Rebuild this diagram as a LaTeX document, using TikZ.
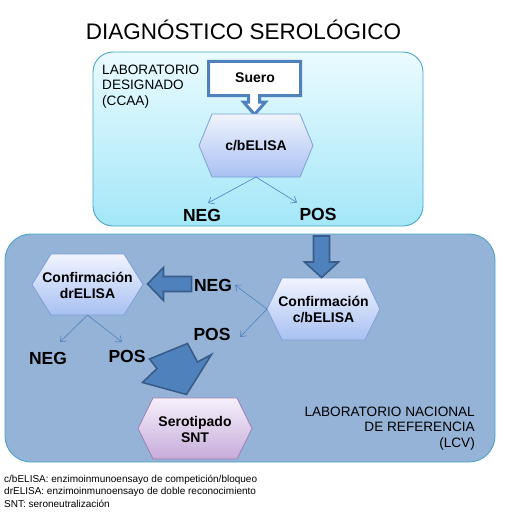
\documentclass[tikz,border=0pt]{standalone}
\usepackage{fontspec}
\setmainfont{Liberation Sans}
\usetikzlibrary{arrows.meta}
\definecolor{topfillA}{HTML}{EAFBFF}
\definecolor{topfillB}{HTML}{A3E7F8}
\definecolor{boxline}{HTML}{4BA5C8}
\definecolor{lowfill}{HTML}{95B3D7}
\definecolor{hexA}{HTML}{F0F4FE}
\definecolor{hexB}{HTML}{A8C0F2}
\definecolor{hexline}{HTML}{7F9ED6}
\definecolor{purA}{HTML}{F6F0FB}
\definecolor{purB}{HTML}{C7ABDA}
\definecolor{purline}{HTML}{9C80B6}
\definecolor{arrfill}{HTML}{4F81BD}
\definecolor{arrline}{HTML}{385D8A}
\newcommand\fsz[2]{\fontsize{#1}{#2}\selectfont}
\newcommand\hexa[7]{% name, cx, cy, halfw, halfh, inset, style
  \path[#7] ({#2-#4},#3) -- ({#2-#4+#6},{#3-#5}) -- ({#2+#4-#6},{#3-#5}) -- ({#2+#4},#3)
     -- ({#2+#4-#6},{#3+#5}) -- ({#2-#4+#6},{#3+#5}) -- cycle;
  \coordinate (#1-l) at ({#2-#4},#3);
  \coordinate (#1-b) at (#2,{#3+#5});
}
\tikzset{
  bluehex/.style={draw=hexline, line width=0.8pt, top color=hexA, bottom color=hexB},
  purhex/.style={draw=purline, line width=0.8pt, top color=purA, bottom color=purB},
  blockarrow/.style={fill=arrfill, draw=arrline, line width=1.6pt, line join=miter},
  thinarrow/.style={draw=arrfill, line width=0.6pt, -{Straight Barb[length=5pt,width=8pt]}},
  hextext/.style={font=\bfseries\fsz{14}{16}, align=center, inner sep=0pt},
  result/.style={font=\bfseries\fsz{17.5}{19}, inner sep=0pt},
  lablabel/.style={font=\fsz{13.6}{15.6}, inner sep=0pt}
}
\begin{document}
\begin{tikzpicture}[x=1pt,y=-1pt]
\useasboundingbox (0,0) rectangle (527,519);
\fill[white] (0,0) rectangle (527,519);

% title
\node[inner sep=0pt, font=\fsz{22.5}{26}] (title) at (243.5,30) {DIAGNÓSTICO SEROLÓGICO};

% top lab box
\path[draw=boxline, line width=0.9pt, top color=topfillA, bottom color=topfillB, rounded corners=20pt]
  (93,52) rectangle (423,226);
% bottom lab box
\path[draw=boxline, line width=0.9pt, fill=lowfill, rounded corners=26pt]
  (5,234) rectangle (495,462);

% labels
\node[lablabel, anchor=north west, align=left] (labd) at (102,64.5) {LABORATORIO\\DESIGNADO\\(CCAA)};
\node[lablabel, anchor=north east, align=right] (labn) at (475,406.5) {LABORATORIO NACIONAL\\DE REFERENCIA\\(LCV)};

% Suero callout
\path[draw=arrfill, fill=white, line width=3pt, line join=miter]
  (208.5,61.5) -- (300.5,61.5) -- (300.5,95.5) -- (259.5,95.5) -- (259.5,102) -- (265.5,102)
  -- (254.5,114.5) -- (243.5,102) -- (248.5,102) -- (248.5,95.5) -- (208.5,95.5) -- cycle;
\node[font=\bfseries\fsz{14}{16}, inner sep=0pt] (suero) at (255,78) {Suero};

% hexagons
\hexa{h1}{256}{145.5}{57}{31.5}{13}{bluehex}
\node[hextext] (elisa) at (256,146) {c/bELISA};
\hexa{h2}{323.5}{309}{56.5}{31}{15}{bluehex}
\node[hextext] (confc) at (323.5,309.5) {Confirmación\\c/bELISA};
\hexa{h3}{87.5}{284.5}{55.5}{30.5}{19}{bluehex}
\node[hextext] (confd) at (87.5,285) {Confirmación\\drELISA};
\hexa{h4}{195}{428.5}{57}{30.5}{15}{purhex}
\node[hextext] (sero) at (195,429) {Serotipado\\SNT};

% result labels
\node[result] (neg1) at (202,215) {NEG};
\node[result] (pos1) at (318,214) {POS};
\node[result] (neg2) at (213,285) {NEG};
\node[result] (pos2) at (212,334) {POS};
\node[result] (neg3) at (48,358) {NEG};
\node[result] (pos3) at (127,356) {POS};

% thin arrow end points
\coordinate (e1n) at (208,203);
\coordinate (e1p) at (297,202.5);
\coordinate (e2n) at (235,285);
\coordinate (e2p) at (240,337);
\coordinate (e3n) at (60,342);
\coordinate (e3p) at (122,342);

\draw[thinarrow] (h1-b) -- (e1n);
\draw[thinarrow] (h1-b) -- (e1p);
\draw[thinarrow] (h2-l) -- (e2n);
\draw[thinarrow] (h2-l) -- (e2p);
\draw[thinarrow] (h3-b) -- (e3n);
\draw[thinarrow] (h3-b) -- (e3p);

% block arrows
\path[blockarrow] (313.5,236) -- (329.5,236) -- (329.5,262) -- (338.5,262) -- (321.5,277.5)
  -- (304.5,262) -- (313.5,262) -- cycle;
\path[blockarrow] (191.5,276.5) -- (191.5,291.5) -- (163.5,291.5) -- (163.5,300.5) -- (147.5,284)
  -- (163.5,267.5) -- (163.5,276.5) -- cycle;
\path[blockarrow] (149.5,359) -- (187.5,343.5) -- (197.5,362) -- (211.5,354.5) -- (186.5,394.5)
  -- (142.5,382.5) -- (157,368.5) -- cycle;

% legend
\node[anchor=north west, align=left, inner sep=0pt, font=\fsz{10}{12.6}] (legend) at (4,474.5)
  {c/bELISA: enzimoinmunoensayo de competición/bloqueo\\
   drELISA: enzimoinmunoensayo de doble reconocimiento\\
   SNT: seroneutralización};
\end{tikzpicture}
\end{document}
